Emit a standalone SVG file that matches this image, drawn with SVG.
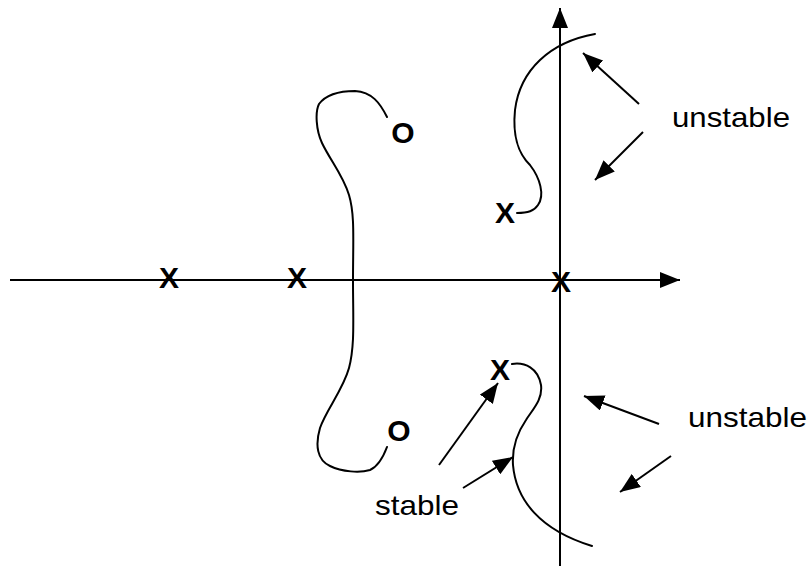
<svg xmlns="http://www.w3.org/2000/svg" width="810" height="569" viewBox="0 0 810 569">
<defs>
<marker id="ah" viewBox="0 0 20 16" refX="20" refY="8" markerWidth="20" markerHeight="16" markerUnits="userSpaceOnUse" orient="auto">
<path d="M0,0 L20,8 L0,16 Z" fill="#000"/>
</marker>
<style>
.ln{stroke:#000;stroke-width:2;fill:none}
.cv{stroke:#000;stroke-width:2;fill:none;stroke-linecap:round}
.pole{font-family:"Liberation Sans",Arial,sans-serif;font-weight:bold;font-size:30px;text-anchor:middle;fill:#000}
.lbl{font-family:"Liberation Sans",Arial,sans-serif;font-size:28px;fill:#000}
</style>
</defs>
<g id="axes">
<line class="ln" x1="10" y1="280" x2="680" y2="280" marker-end="url(#ah)"/>
<line class="ln" x1="560" y1="566" x2="560" y2="8" marker-end="url(#ah)"/>
</g>
<g id="locus-left">
<path class="cv" d="M387,117 C380,103 372,92 355,91 C338,91 325,96 319,104 C315,112 316,130 322,143 C330,160 343,175 349,195 C355,215 353,240 353,280 C353,320 355,345 349,368 C343,390 326,410 320,428 C315,445 317,460 330,466 C342,472 360,473 370,470 C379,466 384,455 387,447"/>
</g>
<g id="locus-upper">
<path class="cv" d="M595,34 C550,42 520,70 515,110 C512,140 520,155 530,165 C540,178 545,195 538,205 C534,211 528,213 517,213"/>
</g>
<g id="locus-lower">
<path class="cv" d="M512,364 C525,362 538,368 541,385 C543,400 532,410 526,420 C515,436 512,450 513,465 C516,500 540,530 592,546"/>
</g>
<g id="poles">
<text class="pole" x="169" y="288">X</text>
<text class="pole" x="297" y="288">X</text>
<text class="pole" x="561" y="292">X</text>
<text class="pole" x="505" y="223">X</text>
<text class="pole" x="500" y="380">X</text>
</g>
<g id="zeros">
<text class="pole" x="403" y="143">O</text>
<text class="pole" x="399" y="441">O</text>
</g>
<g id="labels">
<text class="lbl" x="672" y="127" textLength="118" lengthAdjust="spacingAndGlyphs">unstable</text>
<text class="lbl" x="688" y="427" textLength="119" lengthAdjust="spacingAndGlyphs">unstable</text>
<text class="lbl" x="375" y="515" textLength="84" lengthAdjust="spacingAndGlyphs">stable</text>
</g>
<g id="connectors">
<line class="ln" x1="639" y1="104" x2="583" y2="53" marker-end="url(#ah)"/>
<line class="ln" x1="643" y1="132" x2="595" y2="180" marker-end="url(#ah)"/>
<line class="ln" x1="659" y1="424" x2="584" y2="396" marker-end="url(#ah)"/>
<line class="ln" x1="671" y1="456" x2="620" y2="492" marker-end="url(#ah)"/>
<line class="ln" x1="439" y1="465" x2="498" y2="383" marker-end="url(#ah)"/>
<line class="ln" x1="463" y1="488" x2="513" y2="457" marker-end="url(#ah)"/>
</g>
</svg>
